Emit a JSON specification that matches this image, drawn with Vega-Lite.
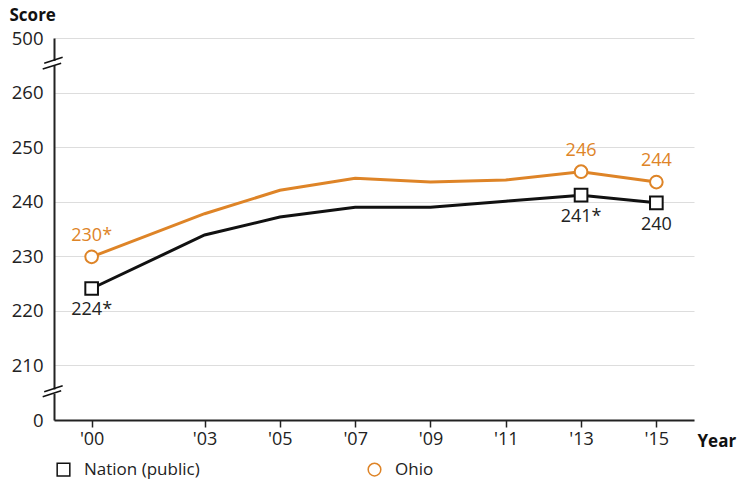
{
  "$schema": "https://vega.github.io/schema/vega-lite/v6.json",
  "width": 640,
  "height": 382,
  "autosize": {"type": "none"},
  "padding": {"left": 54, "top": 38, "right": 53, "bottom": 62},
  "config": {
    "view": {"stroke": null},
    "font": "Open Sans",
    "text": {"font": "Open Sans"}
  },
  "datasets": {
    "scores": [
      {"year": 2000, "series": "Nation (public)", "score": 224.1, "label": "224*"},
      {"year": 2003, "series": "Nation (public)", "score": 233.9, "label": ""},
      {"year": 2005, "series": "Nation (public)", "score": 237.2, "label": ""},
      {"year": 2007, "series": "Nation (public)", "score": 239.0, "label": ""},
      {"year": 2009, "series": "Nation (public)", "score": 239.0, "label": ""},
      {"year": 2011, "series": "Nation (public)", "score": 240.1, "label": ""},
      {"year": 2013, "series": "Nation (public)", "score": 241.2, "label": "241*"},
      {"year": 2015, "series": "Nation (public)", "score": 239.8, "label": "240"},
      {"year": 2000, "series": "Ohio", "score": 229.9, "label": "230*"},
      {"year": 2003, "series": "Ohio", "score": 237.8, "label": ""},
      {"year": 2005, "series": "Ohio", "score": 242.1, "label": ""},
      {"year": 2007, "series": "Ohio", "score": 244.3, "label": ""},
      {"year": 2009, "series": "Ohio", "score": 243.6, "label": ""},
      {"year": 2011, "series": "Ohio", "score": 244.0, "label": ""},
      {"year": 2013, "series": "Ohio", "score": 245.5, "label": "246"},
      {"year": 2015, "series": "Ohio", "score": 243.6, "label": "244"}
    ],
    "masks": [
      {"year": 1999, "year2": 1999, "score": 265.0, "score2": 265.8},
      {"year": 1999, "year2": 1999, "score": 204.8, "score2": 205.6}
    ],
    "slashes": [
      {"year": 1998.74, "year2": 1999.23, "score": 265.36, "score2": 266.46},
      {"year": 1998.70, "year2": 1999.19, "score": 264.32, "score2": 265.36},
      {"year": 1998.74, "year2": 1999.23, "score": 205.18, "score2": 206.28},
      {"year": 1998.70, "year2": 1999.19, "score": 204.27, "score2": 205.37}
    ]
  },
  "layer": [
    {
      "data": {"name": "scores"},
      "mark": {"type": "line", "strokeWidth": 3},
      "encoding": {
        "x": {
          "field": "year", "type": "quantitative",
          "scale": {"domain": [1999, 2016], "nice": false, "zero": false},
          "axis": {
            "values": [2000, 2003, 2005, 2007, 2009, 2011, 2013, 2015],
            "labelExpr": "\"'\" + substring('' + datum.value, 2, 4)",
            "grid": false,
            "domainColor": "#222222", "domainWidth": 2,
            "tickColor": "#222222", "tickSize": 7, "tickWidth": 1.5,
            "labelFontSize": 18, "labelFont": "Open Sans", "labelColor": "#222222", "labelPadding": 3,
            "title": "Year", "titleFontSize": 17, "titleFontWeight": "bold", "titleColor": "#111111",
            "titleX": 643, "titleY": 26, "titleAlign": "left", "titleBaseline": "alphabetic", "titleAnchor": null
          }
        },
        "y": {
          "field": "score", "type": "quantitative",
          "scale": {"domain": [200, 270], "nice": false, "zero": false},
          "axis": {
            "values": [200, 210, 220, 230, 240, 250, 260, 270],
            "labelExpr": "datum.value == 270 ? '500' : (datum.value == 200 ? '0' : datum.label)",
            "gridColor": "#dddddd", "gridWidth": 1,
            "ticks": false,
            "domainColor": "#222222", "domainWidth": 2,
            "labelFontSize": 18.5, "labelFont": "Open Sans", "labelColor": "#222222", "labelPadding": 11,
            "title": "Score", "titleAngle": 0, "titleFontSize": 17, "titleFontWeight": "bold", "titleColor": "#111111",
            "titleX": -45, "titleY": -18, "titleAlign": "left", "titleBaseline": "alphabetic", "titleAnchor": null
          }
        },
        "detail": {"field": "series", "type": "nominal"},
        "stroke": {
          "condition": {"test": "datum.series == 'Ohio'", "value": "#DE8427"},
          "value": "#111111"
        }
      }
    },
    {
      "data": {"name": "scores"},
      "transform": [{"filter": "datum.label != ''"}],
      "mark": {"type": "point", "filled": false, "fill": "white", "fillOpacity": 1, "strokeWidth": 2, "size": 160, "opacity": 1},
      "encoding": {
        "x": {"field": "year", "type": "quantitative"},
        "y": {"field": "score", "type": "quantitative"},
        "color": {
          "field": "series", "type": "nominal",
          "scale": {"domain": ["Nation (public)", "Ohio"], "range": ["#111111", "#DE8427"]},
          "legend": {
            "orient": "none", "legendX": 1, "legendY": 423, "direction": "horizontal",
            "columns": 2, "columnPadding": 165, "title": null,
            "labelFontSize": 17, "labelColor": "#222222", "labelOffset": 12,
            "symbolSize": 160, "symbolStrokeWidth": 1.5, "symbolFillColor": "white"
          }
        },
        "shape": {
          "field": "series", "type": "nominal",
          "scale": {"domain": ["Nation (public)", "Ohio"], "range": ["square", "circle"]},
          "legend": {
            "orient": "none", "legendX": 1, "legendY": 423, "direction": "horizontal",
            "columns": 2, "columnPadding": 165, "title": null,
            "labelFontSize": 17, "labelColor": "#222222", "labelOffset": 12,
            "symbolSize": 160, "symbolStrokeWidth": 1.5, "symbolFillColor": "white"
          }
        }
      }
    },
    {
      "data": {"name": "scores"},
      "transform": [{"filter": "datum.series == 'Ohio' && datum.label != ''"}],
      "mark": {"type": "text", "fontSize": 18, "color": "#DE8427", "baseline": "alphabetic", "dy": -16},
      "encoding": {
        "x": {"field": "year", "type": "quantitative"},
        "y": {"field": "score", "type": "quantitative"},
        "text": {"field": "label", "type": "nominal"}
      }
    },
    {
      "data": {"name": "scores"},
      "transform": [{"filter": "datum.series != 'Ohio' && datum.label != ''"}],
      "mark": {"type": "text", "fontSize": 18, "color": "#222222", "baseline": "alphabetic", "dy": 27},
      "encoding": {
        "x": {"field": "year", "type": "quantitative"},
        "y": {"field": "score", "type": "quantitative"},
        "text": {"field": "label", "type": "nominal"}
      }
    },
    {
      "data": {"name": "masks"},
      "mark": {"type": "rule", "color": "white", "strokeWidth": 4},
      "encoding": {
        "x": {"field": "year", "type": "quantitative"},
        "x2": {"field": "year2"},
        "y": {"field": "score", "type": "quantitative"},
        "y2": {"field": "score2"}
      }
    },
    {
      "data": {"name": "slashes"},
      "mark": {"type": "rule", "color": "#111111", "strokeWidth": 1.5},
      "encoding": {
        "x": {"field": "year", "type": "quantitative"},
        "x2": {"field": "year2"},
        "y": {"field": "score", "type": "quantitative"},
        "y2": {"field": "score2"}
      }
    }
  ]
}
